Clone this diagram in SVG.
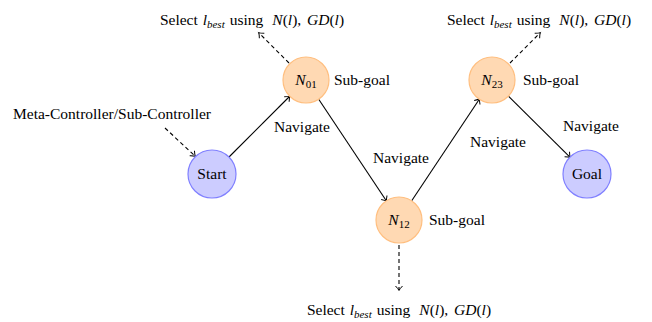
<svg xmlns="http://www.w3.org/2000/svg" width="652" height="322" viewBox="0 0 652 322">
<defs>
<marker id="ah" markerUnits="userSpaceOnUse" markerWidth="12" markerHeight="12" viewBox="-6 -6 12 12" refX="0" refY="0" orient="auto">
<path d="M -4 -3.5 Q -1 -0.6 0.5 0 Q -1 0.6 -4 3.5" fill="none" stroke="#000" stroke-width="1"/>
</marker>
</defs>
<style>
text{font-family:"Liberation Serif","Times New Roman",serif;font-size:15.5px;fill:#000}
.m{font-style:italic}
.sub{font-size:11px}
.orange{fill:#FFD9B3;stroke:#FFBF80;stroke-width:1.2}
.blue{fill:#CCCCFF;stroke:#8080FF;stroke-width:1.2}
.edge{stroke:#000;stroke-width:1.1;fill:none;marker-end:url(#ah)}
.dash{stroke:#000;stroke-width:1.1;fill:none;stroke-dasharray:4 3;marker-end:url(#ah)}
</style>
<rect width="652" height="322" fill="#fff"/>
<g id="connectors">
<line class="edge" x1="229" y1="157" x2="289.5" y2="96.5"/>
<line class="edge" x1="318.7" y1="99.2" x2="386.3" y2="200.8"/>
<line class="edge" x1="411.7" y1="200.8" x2="479.3" y2="99.2"/>
<line class="edge" x1="508.4" y1="96.2" x2="569.9" y2="157.1"/>
<line class="dash" x1="289" y1="63" x2="259" y2="33"/>
<line class="dash" x1="510" y1="63" x2="540" y2="33"/>
<line class="dash" x1="399" y1="245" x2="399" y2="290"/>
<line class="dash" x1="165" y1="128" x2="195" y2="156"/>
<text x="302" y="132" text-anchor="middle">Navigate</text>
<text x="401" y="163" text-anchor="middle">Navigate</text>
<text x="498" y="147" text-anchor="middle">Navigate</text>
<text x="591" y="131" text-anchor="middle">Navigate</text>
</g>
<g id="start">
<circle class="blue" cx="212" cy="174" r="24"/>
<text x="212" y="179" text-anchor="middle">Start</text>
</g>
<g id="meta">
<text x="13" y="119">Meta-Controller/Sub-Controller</text>
</g>
<g id="n01">
<circle class="orange" cx="306" cy="80" r="23"/>
<text x="306" y="85" text-anchor="middle"><tspan class="m">N</tspan><tspan class="sub" dy="3">01</tspan></text>
<text x="334" y="85">Sub-goal</text>
<text x="252" y="25" text-anchor="middle">Select <tspan class="m" dx="1">l</tspan><tspan class="m sub" dy="3">best</tspan><tspan dy="-3" dx="5">using</tspan><tspan class="m" dx="9">N</tspan>(<tspan class="m">l</tspan>), <tspan class="m" dx="2">GD</tspan>(<tspan class="m">l</tspan>)</text>
</g>
<g id="n12">
<circle class="orange" cx="399" cy="220" r="23"/>
<text x="399" y="225" text-anchor="middle"><tspan class="m">N</tspan><tspan class="sub" dy="3">12</tspan></text>
<text x="429" y="225">Sub-goal</text>
<text x="399" y="315" text-anchor="middle">Select <tspan class="m" dx="1">l</tspan><tspan class="m sub" dy="3">best</tspan><tspan dy="-3" dx="5">using</tspan><tspan class="m" dx="9">N</tspan>(<tspan class="m">l</tspan>), <tspan class="m" dx="2">GD</tspan>(<tspan class="m">l</tspan>)</text>
</g>
<g id="n23">
<circle class="orange" cx="492" cy="80" r="23"/>
<text x="492" y="85" text-anchor="middle"><tspan class="m">N</tspan><tspan class="sub" dy="3">23</tspan></text>
<text x="523" y="85">Sub-goal</text>
<text x="539" y="25" text-anchor="middle">Select <tspan class="m" dx="1">l</tspan><tspan class="m sub" dy="3">best</tspan><tspan dy="-3" dx="5">using</tspan><tspan class="m" dx="9">N</tspan>(<tspan class="m">l</tspan>), <tspan class="m" dx="2">GD</tspan>(<tspan class="m">l</tspan>)</text>
</g>
<g id="goal">
<circle class="blue" cx="587" cy="174" r="24"/>
<text x="587" y="179" text-anchor="middle">Goal</text>
</g>
</svg>
